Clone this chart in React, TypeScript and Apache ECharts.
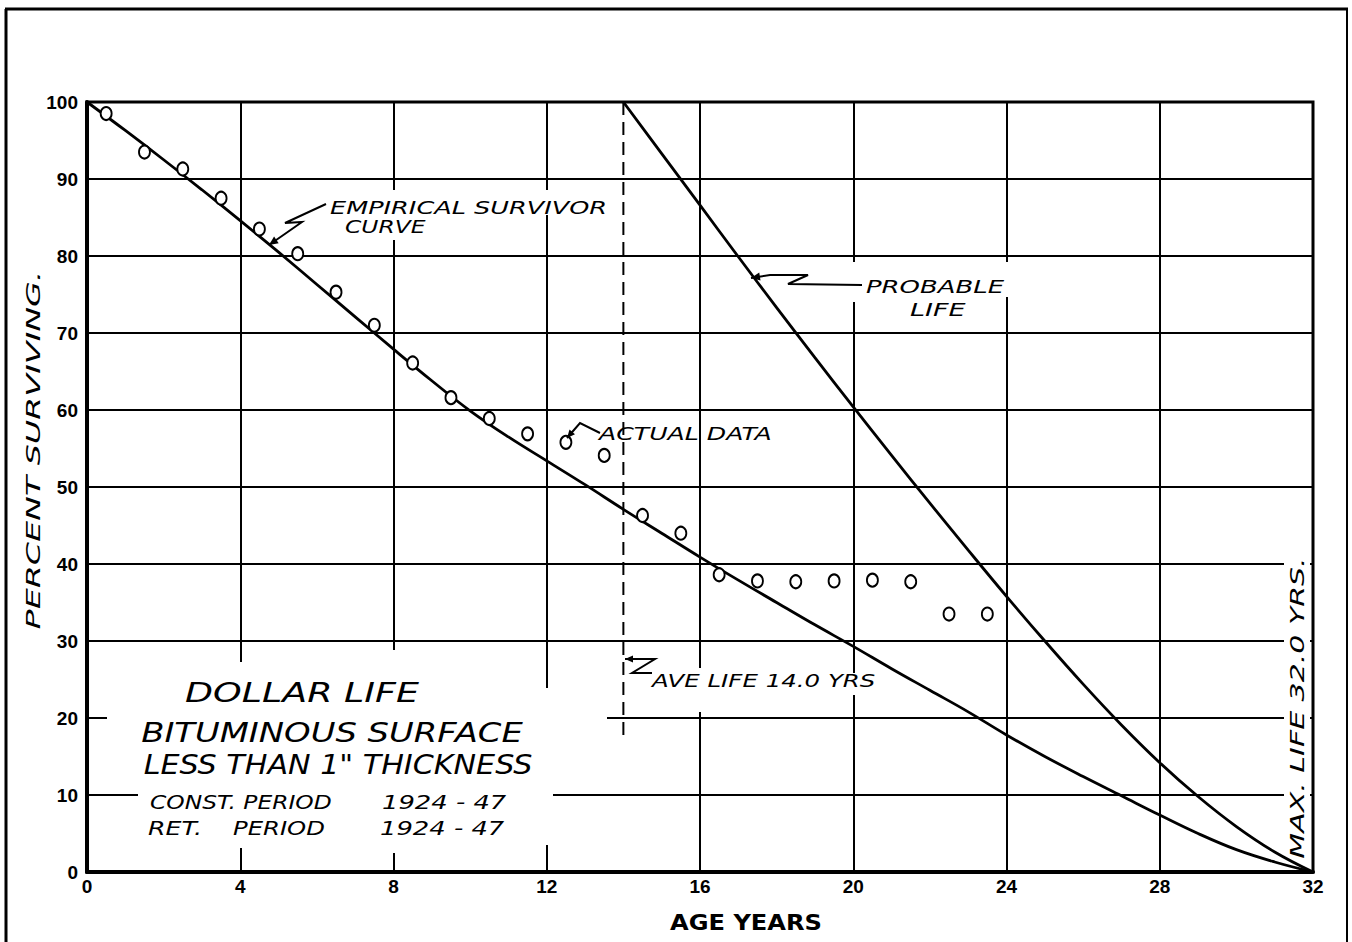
import React, { useEffect, useRef } from "react";
import * as echarts from "echarts";

// ---- data ----
const actualAges = [0.5, 1.5, 2.5, 3.5, 4.5, 5.5, 6.5, 7.5, 8.5, 9.5, 10.5, 11.5, 12.5, 13.5, 14.5, 15.5, 16.5, 17.5, 18.5, 19.5, 20.5, 21.5, 22.5, 23.5];
const actualPercent = [98.5, 93.5, 91.3, 87.5, 83.5, 80.3, 75.3, 71.0, 66.1, 61.6, 58.9, 56.9, 55.8, 54.1, 46.3, 44.0, 38.6, 37.8, 37.7, 37.8, 37.9, 37.7, 33.5, 33.5];

const empiricalAges = [0, 1, 2, 3, 4, 5, 6, 7, 8, 9, 10, 11, 12, 13, 14, 15, 16, 17, 18, 19, 20, 21, 22, 23, 24, 25, 26, 27, 28, 29, 30, 31, 32];
const empiricalPercent = [100, 96.3, 92.5, 88.6, 84.6, 80.5, 76.3, 72.1, 67.9, 63.8, 59.9, 56.5, 53.4, 50.3, 47.1, 44.0, 40.9, 37.9, 35.0, 32.1, 29.3, 26.4, 23.6, 20.8, 17.8, 15.0, 12.4, 9.9, 7.4, 5.0, 2.9, 1.3, 0];

const probableAges = [14, 15, 16, 17, 18, 19, 20, 21, 22, 23, 24, 25, 26, 27, 28, 29, 30, 31, 32];
const probablePercent = [100, 93.3, 86.6, 79.9, 73.3, 66.8, 60.4, 54.1, 47.9, 41.8, 35.8, 30.0, 24.4, 19.1, 14.2, 9.8, 5.9, 2.6, 0];

const aveLifeAge = 14;
const aveLineTop = 100;
const aveLineBottom = 17.4;

// ---- layout / annotation helpers ----
const FONT = '"DejaVu Sans"';
const it = (px: number) => `italic ${px}px ${FONT}`;

function txt(text: string, x: number, y: number, size: number, scaleX: number, align = "left", rotation = 0) {
  return {
    type: "text",
    x,
    y,
    scaleX,
    rotation,
    z: 10,
    silent: true,
    style: {
      text,
      fill: "#000",
      font: it(size),
      textAlign: align,
      textVerticalAlign: "middle",
      align,
      verticalAlign: "middle",
    },
  };
}

function arrow(pts: number[][], size = 9) {
  const n = pts.length;
  const [tx, ty] = pts[n - 1];
  const [fx, fy] = pts[n - 2];
  const dx = tx - fx, dy = ty - fy;
  const len = Math.hypot(dx, dy) || 1;
  const ux = dx / len, uy = dy / len;
  const bx = tx - ux * size, by = ty - uy * size;
  const px = -uy * size * 0.45, py = ux * size * 0.45;
  return [
    { type: "polyline", z: 10, silent: true, shape: { points: pts }, style: { stroke: "#000", lineWidth: 2, fill: null } },
    { type: "polygon", z: 10, silent: true, shape: { points: [[tx, ty], [bx + px, by + py], [bx - px, by - py]] }, style: { fill: "#000" } },
  ];
}

const gaps = [
  [107, 712, 500, 12],
  [138, 789, 415, 12],
  [236, 662, 10, 186],
  [388, 650, 10, 203],
  [542, 688, 10, 157],
  [697, 668, 10, 44],
  [851, 673, 10, 22],
  [388, 190, 10, 50],
  [542, 190, 10, 25],
  [851, 262, 10, 40],
  [1005, 262, 10, 35],
  [1284, 548, 26, 318],
];

export default function App() {
  const ref = useRef<HTMLDivElement>(null);
  useEffect(() => {
    const chart = echarts.init(ref.current!, null, { renderer: "svg" });
    const gapRects = gaps.map(([x, y, w, h]) => ({
      type: "rect",
      z: 1,
      silent: true,
      shape: { x, y, width: w, height: h },
      style: { fill: "#fff" },
    }));
    const option: any = {
      animation: false,
      backgroundColor: "#fff",
      grid: { left: 87, right: 39, top: 102, bottom: 70, show: true, borderColor: "#000", borderWidth: 3, backgroundColor: "transparent" },
      xAxis: {
        type: "value",
        min: 0,
        max: 32,
        interval: 4,
        axisLine: { show: true, onZero: false, lineStyle: { color: "#000", width: 4 } },
        axisTick: { show: false },
        axisLabel: { color: "#000", fontSize: 19, fontWeight: "bold", fontFamily: "Liberation Sans", margin: 5 },
        splitLine: { show: true, lineStyle: { color: "#000", width: 2 } },
      },
      yAxis: {
        type: "value",
        min: 0,
        max: 100,
        interval: 10,
        axisLine: { show: true, onZero: false, lineStyle: { color: "#000", width: 4 } },
        axisTick: { show: false },
        axisLabel: { color: "#000", fontSize: 19, fontWeight: "bold", fontFamily: "Liberation Sans", margin: 9, padding: [0, 0, 6, 0] },
        splitLine: { show: true, lineStyle: { color: "#000", width: 2 } },
      },
      series: [
        {
          type: "line",
          name: "Empirical survivor curve",
          data: empiricalAges.map((a, i) => [a, empiricalPercent[i]]),
          smooth: 0.4,
          symbol: "none",
          lineStyle: { color: "#000", width: 2.8 },
          z: 3,
          silent: true,
        },
        {
          type: "line",
          name: "Probable life",
          data: probableAges.map((a, i) => [a, probablePercent[i]]),
          smooth: 0.4,
          symbol: "none",
          lineStyle: { color: "#000", width: 2.8 },
          z: 3,
          silent: true,
        },
        {
          type: "line",
          name: "Ave life",
          data: [[aveLifeAge, aveLineTop], [aveLifeAge, aveLineBottom]],
          symbol: "none",
          lineStyle: { color: "#000", width: 2, type: [13, 7] },
          z: 3,
          silent: true,
        },
        {
          type: "scatter",
          name: "Actual data",
          data: actualAges.map((a, i) => [a, actualPercent[i]]),
          symbol: "circle",
          symbolSize: [11, 13],
          itemStyle: { color: "#fff", borderColor: "#000", borderWidth: 2, opacity: 1 },
          z: 5,
          silent: true,
        },
      ],
      graphic: {
        elements: [
          ...gapRects,
          // outer frame
          { type: "line", z: 10, shape: { x1: 5, y1: 9, x2: 1348, y2: 9 }, style: { stroke: "#000", lineWidth: 3 } },
          { type: "line", z: 10, shape: { x1: 6, y1: 9, x2: 6, y2: 942 }, style: { stroke: "#000", lineWidth: 3 } },
          { type: "line", z: 10, shape: { x1: 1347, y1: 9, x2: 1347, y2: 942 }, style: { stroke: "#000", lineWidth: 2 } },
          // axis titles
          txt("PERCENT SURVIVING.", 33, 450, 19, 1.75, "center", Math.PI / 2),
          { type: "text", x: 746, y: 923, z: 10, scaleX: 1.15, style: { text: "AGE YEARS", fill: "#000", font: `bold 21px ${FONT}`, textAlign: "center", textVerticalAlign: "middle", align: "center", verticalAlign: "middle" } },
          // annotations
          txt("EMPIRICAL SURVIVOR", 330, 207, 18, 1.42),
          txt("CURVE", 345, 227, 18, 1.3),
          ...arrow([[326, 204], [285, 223], [302, 222], [269, 245]]),
          txt("ACTUAL DATA", 599, 434, 17, 1.48),
          ...arrow([[600, 433], [580, 423], [567, 438]], 8),
          txt("PROBABLE", 866, 287, 18, 1.44),
          txt("LIFE", 910, 310, 18, 1.5),
          ...arrow([[862, 285], [788, 284], [808, 275], [770, 275], [751, 278]]),
          txt("AVE LIFE 14.0 YRS", 652, 681, 17, 1.44),
          ...arrow([[652, 673], [632, 673], [655, 659], [625, 659]], 8),
          txt("MAX. LIFE 32.0 YRS.", 1297, 708, 20, 1.5, "center", Math.PI / 2),
          // title block
          txt("DOLLAR LIFE", 302, 693, 26, 1.4, "center"),
          txt("BITUMINOUS SURFACE", 332, 733, 26, 1.3, "center"),
          txt('LESS THAN 1" THICKNESS', 338, 765, 26, 1.16, "center"),
          txt("CONST. PERIOD", 150, 802, 19, 1.23),
          txt("1924 - 47", 382, 802, 19, 1.36),
          txt("RET.", 148, 828, 19, 1.33),
          txt("PERIOD", 233, 828, 19, 1.28),
          txt("1924 - 47", 380, 828, 19, 1.36),
        ],
      },
    };
    chart.setOption(option);
    return () => chart.dispose();
  }, []);
  return <div ref={ref} style={{ position: "absolute", left: 0, top: 0, width: 1352, height: 942, background: "#fff" }} />;
}
